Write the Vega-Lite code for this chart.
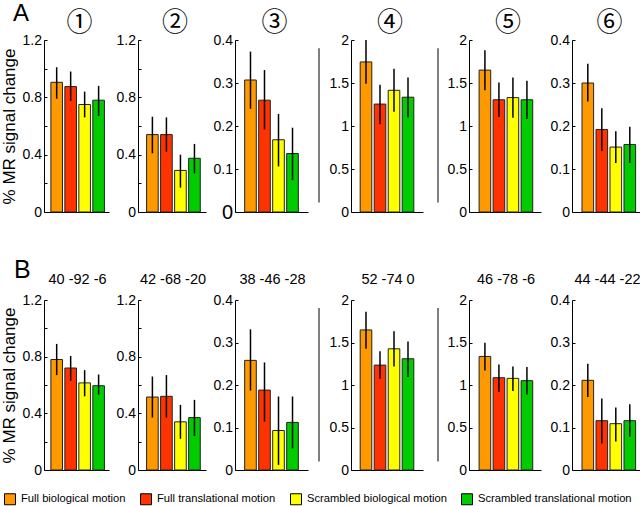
{
 "$schema": "https://vega.github.io/schema/vega-lite/v6.json",
 "padding": {"left": 0, "top": 1, "right": 0, "bottom": 0},
 "background": "white",
 "data": {"values": [
  {"r":"A","p":1,"c":"Full biological motion","v":0.905,"lo":0.79,"hi":1.01},
  {"r":"A","p":1,"c":"Full translational motion","v":0.875,"lo":0.775,"hi":0.98},
  {"r":"A","p":1,"c":"Scrambled biological motion","v":0.75,"lo":0.66,"hi":0.84},
  {"r":"A","p":1,"c":"Scrambled translational motion","v":0.78,"lo":0.67,"hi":0.88},
  {"r":"A","p":2,"c":"Full biological motion","v":0.54,"lo":0.41,"hi":0.665},
  {"r":"A","p":2,"c":"Full translational motion","v":0.54,"lo":0.42,"hi":0.66},
  {"r":"A","p":2,"c":"Scrambled biological motion","v":0.29,"lo":0.17,"hi":0.40},
  {"r":"A","p":2,"c":"Scrambled translational motion","v":0.375,"lo":0.27,"hi":0.475},
  {"r":"A","p":3,"c":"Full biological motion","v":0.307,"lo":0.24,"hi":0.373},
  {"r":"A","p":3,"c":"Full translational motion","v":0.26,"lo":0.192,"hi":0.33},
  {"r":"A","p":3,"c":"Scrambled biological motion","v":0.168,"lo":0.106,"hi":0.228},
  {"r":"A","p":3,"c":"Scrambled translational motion","v":0.136,"lo":0.074,"hi":0.196},
  {"r":"A","p":4,"c":"Full biological motion","v":1.745,"lo":1.49,"hi":2.0},
  {"r":"A","p":4,"c":"Full translational motion","v":1.255,"lo":1.02,"hi":1.48},
  {"r":"A","p":4,"c":"Scrambled biological motion","v":1.415,"lo":1.165,"hi":1.665},
  {"r":"A","p":4,"c":"Scrambled translational motion","v":1.335,"lo":1.10,"hi":1.565},
  {"r":"A","p":5,"c":"Full biological motion","v":1.65,"lo":1.415,"hi":1.88},
  {"r":"A","p":5,"c":"Full translational motion","v":1.305,"lo":1.105,"hi":1.505},
  {"r":"A","p":5,"c":"Scrambled biological motion","v":1.33,"lo":1.095,"hi":1.565},
  {"r":"A","p":5,"c":"Scrambled translational motion","v":1.305,"lo":1.08,"hi":1.525},
  {"r":"A","p":6,"c":"Full biological motion","v":0.30,"lo":0.257,"hi":0.345},
  {"r":"A","p":6,"c":"Full translational motion","v":0.192,"lo":0.142,"hi":0.241},
  {"r":"A","p":6,"c":"Scrambled biological motion","v":0.151,"lo":0.114,"hi":0.188},
  {"r":"A","p":6,"c":"Scrambled translational motion","v":0.157,"lo":0.114,"hi":0.198},
  {"r":"B","p":1,"c":"Full biological motion","v":0.78,"lo":0.67,"hi":0.89},
  {"r":"B","p":1,"c":"Full translational motion","v":0.72,"lo":0.63,"hi":0.805},
  {"r":"B","p":1,"c":"Scrambled biological motion","v":0.615,"lo":0.52,"hi":0.705},
  {"r":"B","p":1,"c":"Scrambled translational motion","v":0.595,"lo":0.533,"hi":0.674},
  {"r":"B","p":2,"c":"Full biological motion","v":0.515,"lo":0.37,"hi":0.66},
  {"r":"B","p":2,"c":"Full translational motion","v":0.52,"lo":0.37,"hi":0.67},
  {"r":"B","p":2,"c":"Scrambled biological motion","v":0.34,"lo":0.22,"hi":0.46},
  {"r":"B","p":2,"c":"Scrambled translational motion","v":0.37,"lo":0.24,"hi":0.495},
  {"r":"B","p":3,"c":"Full biological motion","v":0.258,"lo":0.187,"hi":0.331},
  {"r":"B","p":3,"c":"Full translational motion","v":0.188,"lo":0.114,"hi":0.253},
  {"r":"B","p":3,"c":"Scrambled biological motion","v":0.093,"lo":0.012,"hi":0.173},
  {"r":"B","p":3,"c":"Scrambled translational motion","v":0.112,"lo":0.051,"hi":0.173},
  {"r":"B","p":4,"c":"Full biological motion","v":1.648,"lo":1.426,"hi":1.863},
  {"r":"B","p":4,"c":"Full translational motion","v":1.234,"lo":1.074,"hi":1.398},
  {"r":"B","p":4,"c":"Scrambled biological motion","v":1.426,"lo":1.219,"hi":1.633},
  {"r":"B","p":4,"c":"Scrambled translational motion","v":1.309,"lo":1.094,"hi":1.512},
  {"r":"B","p":5,"c":"Full biological motion","v":1.336,"lo":1.172,"hi":1.496},
  {"r":"B","p":5,"c":"Full translational motion","v":1.086,"lo":0.918,"hi":1.242},
  {"r":"B","p":5,"c":"Scrambled biological motion","v":1.078,"lo":0.93,"hi":1.219},
  {"r":"B","p":5,"c":"Scrambled translational motion","v":1.051,"lo":0.887,"hi":1.211},
  {"r":"B","p":6,"c":"Full biological motion","v":0.211,"lo":0.172,"hi":0.25},
  {"r":"B","p":6,"c":"Full translational motion","v":0.116,"lo":0.0625,"hi":0.168},
  {"r":"B","p":6,"c":"Scrambled biological motion","v":0.109,"lo":0.067,"hi":0.147},
  {"r":"B","p":6,"c":"Scrambled translational motion","v":0.116,"lo":0.078,"hi":0.155}
 ]},
 "config": {
  "view": {"stroke": null},
  "font": "Liberation Sans",
  "axis": {"grid": false, "domainColor": "#000", "domainWidth": 1, "tickColor": "#000", "labelColor": "#000", "labelFont": "Liberation Sans", "labelFontSize": 14, "titleFont": "Liberation Sans", "titleFontSize": 17, "titleFontWeight": "normal", "titleColor": "#000", "labelOverlap": false},
  "axisX": {"labels": false, "ticks": false},
  "axisY": {"tickSize": -3, "labelPadding": 5.5, "titlePadding": 4},
  "title": {"font": "Liberation Sans", "fontWeight": "normal", "color": "#000", "fontSize": 14.5},
  "legend": {"orient": "none", "legendX": -40, "legendY": 453, "direction": "horizontal", "symbolType": "square", "symbolSize": 121, "symbolStrokeColor": "#000", "symbolStrokeWidth": 1, "symbolOpacity": 1, "labelFont": "Liberation Sans", "labelFontSize": 11.2, "labelColor": "#000", "columnPadding": 12, "labelOffset": 5},
  "range": {"category": ["#FF9900", "#FF3300", "#FFFF00", "#00CC00"]}
 },
 "spacing": 35,
 "vconcat": [
  {
   "title": {"text": "A", "fontSize": 24, "anchor": "start", "frame": "bounds", "dx": 13, "dy": 15.5, "offset": 0},
   "bounds": "flush",
   "spacing": 0,
   "hconcat": [
    {"width": 65, "height": 172, "transform": [{"filter": "datum.r=='A'&&datum.p==1"}],
     "title": {"text": "①", "font": "Noto Sans CJK JP", "fontSize": 26, "offset": -3, "dx": 3},
     "encoding": {"x": {"field": "c", "type": "nominal", "sort": null, "axis": {"title": null}, "scale": {"paddingInner": 0.17, "paddingOuter": 0.41, "align": 0.6}}},
     "layer": [
      {"mark": {"type": "bar", "stroke": "#222", "strokeWidth": 1}, "encoding": {"y": {"field": "v", "type": "quantitative", "scale": {"domain": [0, 1.2]}, "axis": {"title": "% MR signal change", "values": [0, 0.2, 0.4, 0.6, 0.8, 1, 1.2], "format": "~g", "labelExpr": "(datum.value==0||datum.value==0.4||datum.value==0.8||datum.value==1.2)?datum.label:''"}}, "color": {"field": "c", "type": "nominal", "title": null}}},
      {"mark": {"type": "rule", "color": "#000", "strokeWidth": 1.5}, "encoding": {"y": {"field": "lo", "type": "quantitative", "axis": {"title": "% MR signal change", "values": [0, 0.2, 0.4, 0.6, 0.8, 1, 1.2], "format": "~g", "labelExpr": "(datum.value==0||datum.value==0.4||datum.value==0.8||datum.value==1.2)?datum.label:''"}}, "y2": {"field": "hi"}}}
     ]},
    {"width": 29, "height": 172, "data": {"values": []}, "mark": {"type": "point", "opacity": 0}},
    {"width": 68, "height": 172, "transform": [{"filter": "datum.r=='A'&&datum.p==2"}],
     "title": {"text": "②", "font": "Noto Sans CJK JP", "fontSize": 26, "offset": -3, "dx": 3},
     "encoding": {"x": {"field": "c", "type": "nominal", "sort": null, "axis": {"title": null}, "scale": {"paddingInner": 0.17, "paddingOuter": 0.51, "align": 0.6}}},
     "layer": [
      {"mark": {"type": "bar", "stroke": "#222", "strokeWidth": 1}, "encoding": {"y": {"field": "v", "type": "quantitative", "scale": {"domain": [0, 1.2]}, "axis": {"title": null, "values": [0, 0.2, 0.4, 0.6, 0.8, 1, 1.2], "format": "~g", "labelExpr": "(datum.value==0||datum.value==0.4||datum.value==0.8||datum.value==1.2)?datum.label:''"}}, "color": {"field": "c", "type": "nominal", "title": null}}},
      {"mark": {"type": "rule", "color": "#000", "strokeWidth": 1.5}, "encoding": {"y": {"field": "lo", "type": "quantitative", "axis": {"title": null, "values": [0, 0.2, 0.4, 0.6, 0.8, 1, 1.2], "format": "~g", "labelExpr": "(datum.value==0||datum.value==0.4||datum.value==0.8||datum.value==1.2)?datum.label:''"}}, "y2": {"field": "hi"}}}
     ]},
    {"width": 29, "height": 172, "data": {"values": []}, "mark": {"type": "point", "opacity": 0}},
    {"width": 73, "height": 172, "transform": [{"filter": "datum.r=='A'&&datum.p==3"}],
     "title": {"text": "③", "font": "Noto Sans CJK JP", "fontSize": 26, "offset": -3, "dx": 3},
     "encoding": {"x": {"field": "c", "type": "nominal", "sort": null, "axis": {"title": null}, "scale": {"paddingInner": 0.17, "paddingOuter": 0.69, "align": 0.5}}},
     "layer": [
      {"mark": {"type": "bar", "stroke": "#222", "strokeWidth": 1}, "encoding": {"y": {"field": "v", "type": "quantitative", "scale": {"domain": [0, 0.4]}, "axis": {"title": null, "values": [0, 0.1, 0.2, 0.3, 0.4], "format": "~g", "labelFontSize": {"condition": {"test": "datum.value==0", "value": 20}, "value": 14}}}, "color": {"field": "c", "type": "nominal", "title": null}}},
      {"mark": {"type": "rule", "color": "#000", "strokeWidth": 1.5}, "encoding": {"y": {"field": "lo", "type": "quantitative", "axis": {"title": null, "values": [0, 0.1, 0.2, 0.3, 0.4], "format": "~g", "labelFontSize": {"condition": {"test": "datum.value==0", "value": 20}, "value": 14}}}, "y2": {"field": "hi"}}}
     ]},
    {"width": 11, "height": 172, "data": {"values": []}, "mark": {"type": "point", "opacity": 0}},
    {"width": 32, "height": 172, "data": {"values": [{}]}, "mark": {"type": "rule", "color": "#555", "strokeWidth": 1.5},
     "encoding": {"x": {"datum": 0, "type": "quantitative", "scale": {"domain": [0, 1]}, "axis": null}, "y": {"datum": 0.11, "type": "quantitative", "scale": {"domain": [0, 2]}, "axis": null}, "y2": {"datum": 1.905}}},
    {"width": 72, "height": 172, "transform": [{"filter": "datum.r=='A'&&datum.p==4"}],
     "title": {"text": "④", "font": "Noto Sans CJK JP", "fontSize": 26, "offset": -3, "dx": 3},
     "encoding": {"x": {"field": "c", "type": "nominal", "sort": null, "axis": {"title": null}, "scale": {"paddingInner": 0.17, "paddingOuter": 0.656, "align": 0.5}}},
     "layer": [
      {"mark": {"type": "bar", "stroke": "#222", "strokeWidth": 1}, "encoding": {"y": {"field": "v", "type": "quantitative", "scale": {"domain": [0, 2]}, "axis": {"title": null, "values": [0, 0.5, 1, 1.5, 2], "format": "~g"}}, "color": {"field": "c", "type": "nominal", "title": null}}},
      {"mark": {"type": "rule", "color": "#000", "strokeWidth": 1.5}, "encoding": {"y": {"field": "lo", "type": "quantitative", "axis": {"title": null, "values": [0, 0.5, 1, 1.5, 2], "format": "~g"}}, "y2": {"field": "hi"}}}
     ]},
    {"width": 15, "height": 172, "data": {"values": []}, "mark": {"type": "point", "opacity": 0}},
    {"width": 31, "height": 172, "data": {"values": [{}]}, "mark": {"type": "rule", "color": "#555", "strokeWidth": 1.5},
     "encoding": {"x": {"datum": 0, "type": "quantitative", "scale": {"domain": [0, 1]}, "axis": null}, "y": {"datum": 0.11, "type": "quantitative", "scale": {"domain": [0, 2]}, "axis": null}, "y2": {"datum": 1.905}}},
    {"width": 72, "height": 172, "transform": [{"filter": "datum.r=='A'&&datum.p==5"}],
     "title": {"text": "⑤", "font": "Noto Sans CJK JP", "fontSize": 26, "offset": -3, "dx": 3},
     "encoding": {"x": {"field": "c", "type": "nominal", "sort": null, "axis": {"title": null}, "scale": {"paddingInner": 0.17, "paddingOuter": 0.656, "align": 0.55}}},
     "layer": [
      {"mark": {"type": "bar", "stroke": "#222", "strokeWidth": 1}, "encoding": {"y": {"field": "v", "type": "quantitative", "scale": {"domain": [0, 2]}, "axis": {"title": null, "values": [0, 0.5, 1, 1.5, 2], "format": "~g"}}, "color": {"field": "c", "type": "nominal", "title": null}}},
      {"mark": {"type": "rule", "color": "#000", "strokeWidth": 1.5}, "encoding": {"y": {"field": "lo", "type": "quantitative", "axis": {"title": null, "values": [0, 0.5, 1, 1.5, 2], "format": "~g"}}, "y2": {"field": "hi"}}}
     ]},
    {"width": 31, "height": 172, "data": {"values": []}, "mark": {"type": "point", "opacity": 0}},
    {"width": 69, "height": 172, "transform": [{"filter": "datum.r=='A'&&datum.p==6"}],
     "title": {"text": "⑥", "font": "Noto Sans CJK JP", "fontSize": 26, "offset": -3, "dx": 3},
     "encoding": {"x": {"field": "c", "type": "nominal", "sort": null, "axis": {"title": null}, "scale": {"paddingInner": 0.17, "paddingOuter": 0.55, "align": 0.65}}},
     "layer": [
      {"mark": {"type": "bar", "stroke": "#222", "strokeWidth": 1}, "encoding": {"y": {"field": "v", "type": "quantitative", "scale": {"domain": [0, 0.4]}, "axis": {"title": null, "values": [0, 0.1, 0.2, 0.3, 0.4], "format": "~g"}}, "color": {"field": "c", "type": "nominal", "title": null}}},
      {"mark": {"type": "rule", "color": "#000", "strokeWidth": 1.5}, "encoding": {"y": {"field": "lo", "type": "quantitative", "axis": {"title": null, "values": [0, 0.1, 0.2, 0.3, 0.4], "format": "~g"}}, "y2": {"field": "hi"}}}
     ]}
   ]
  },
  {
   "title": {"text": "B", "fontSize": 25, "anchor": "start", "frame": "bounds", "dx": 14, "dy": 11, "offset": 0},
   "bounds": "flush",
   "spacing": 0,
   "hconcat": [
    {"width": 65, "height": 170, "transform": [{"filter": "datum.r=='B'&&datum.p==1"}],
     "title": {"text": "40 -92 -6", "offset": 6, "dx": 1},
     "encoding": {"x": {"field": "c", "type": "nominal", "sort": null, "axis": {"title": null}, "scale": {"paddingInner": 0.17, "paddingOuter": 0.41, "align": 0.6}}},
     "layer": [
      {"mark": {"type": "bar", "stroke": "#222", "strokeWidth": 1}, "encoding": {"y": {"field": "v", "type": "quantitative", "scale": {"domain": [0, 1.2]}, "axis": {"title": "% MR signal change", "values": [0, 0.2, 0.4, 0.6, 0.8, 1, 1.2], "format": "~g", "labelExpr": "(datum.value==0||datum.value==0.4||datum.value==0.8||datum.value==1.2)?datum.label:''"}}, "color": {"field": "c", "type": "nominal", "title": null}}},
      {"mark": {"type": "rule", "color": "#000", "strokeWidth": 1.5}, "encoding": {"y": {"field": "lo", "type": "quantitative", "axis": {"title": "% MR signal change", "values": [0, 0.2, 0.4, 0.6, 0.8, 1, 1.2], "format": "~g", "labelExpr": "(datum.value==0||datum.value==0.4||datum.value==0.8||datum.value==1.2)?datum.label:''"}}, "y2": {"field": "hi"}}}
     ]},
    {"width": 29, "height": 170, "data": {"values": []}, "mark": {"type": "point", "opacity": 0}},
    {"width": 68, "height": 170, "transform": [{"filter": "datum.r=='B'&&datum.p==2"}],
     "title": {"text": "42 -68 -20", "offset": 6, "dx": 1},
     "encoding": {"x": {"field": "c", "type": "nominal", "sort": null, "axis": {"title": null}, "scale": {"paddingInner": 0.17, "paddingOuter": 0.51, "align": 0.6}}},
     "layer": [
      {"mark": {"type": "bar", "stroke": "#222", "strokeWidth": 1}, "encoding": {"y": {"field": "v", "type": "quantitative", "scale": {"domain": [0, 1.2]}, "axis": {"title": null, "values": [0, 0.2, 0.4, 0.6, 0.8, 1, 1.2], "format": "~g", "labelExpr": "(datum.value==0||datum.value==0.4||datum.value==0.8||datum.value==1.2)?datum.label:''"}}, "color": {"field": "c", "type": "nominal", "title": null}}},
      {"mark": {"type": "rule", "color": "#000", "strokeWidth": 1.5}, "encoding": {"y": {"field": "lo", "type": "quantitative", "axis": {"title": null, "values": [0, 0.2, 0.4, 0.6, 0.8, 1, 1.2], "format": "~g", "labelExpr": "(datum.value==0||datum.value==0.4||datum.value==0.8||datum.value==1.2)?datum.label:''"}}, "y2": {"field": "hi"}}}
     ]},
    {"width": 29, "height": 170, "data": {"values": []}, "mark": {"type": "point", "opacity": 0}},
    {"width": 73, "height": 170, "transform": [{"filter": "datum.r=='B'&&datum.p==3"}],
     "title": {"text": "38 -46 -28", "offset": 6, "dx": 1},
     "encoding": {"x": {"field": "c", "type": "nominal", "sort": null, "axis": {"title": null}, "scale": {"paddingInner": 0.17, "paddingOuter": 0.69, "align": 0.5}}},
     "layer": [
      {"mark": {"type": "bar", "stroke": "#222", "strokeWidth": 1}, "encoding": {"y": {"field": "v", "type": "quantitative", "scale": {"domain": [0, 0.4]}, "axis": {"title": null, "values": [0, 0.1, 0.2, 0.3, 0.4], "format": "~g"}}, "color": {"field": "c", "type": "nominal", "title": null}}},
      {"mark": {"type": "rule", "color": "#000", "strokeWidth": 1.5}, "encoding": {"y": {"field": "lo", "type": "quantitative", "axis": {"title": null, "values": [0, 0.1, 0.2, 0.3, 0.4], "format": "~g"}}, "y2": {"field": "hi"}}}
     ]},
    {"width": 11, "height": 170, "data": {"values": []}, "mark": {"type": "point", "opacity": 0}},
    {"width": 32, "height": 170, "data": {"values": [{}]}, "mark": {"type": "rule", "color": "#555", "strokeWidth": 1.5},
     "encoding": {"x": {"datum": 0, "type": "quantitative", "scale": {"domain": [0, 1]}, "axis": null}, "y": {"datum": 0.1, "type": "quantitative", "scale": {"domain": [0, 2]}, "axis": null}, "y2": {"datum": 1.905}}},
    {"width": 72, "height": 170, "transform": [{"filter": "datum.r=='B'&&datum.p==4"}],
     "title": {"text": "52 -74 0", "offset": 6, "dx": 1},
     "encoding": {"x": {"field": "c", "type": "nominal", "sort": null, "axis": {"title": null}, "scale": {"paddingInner": 0.17, "paddingOuter": 0.656, "align": 0.5}}},
     "layer": [
      {"mark": {"type": "bar", "stroke": "#222", "strokeWidth": 1}, "encoding": {"y": {"field": "v", "type": "quantitative", "scale": {"domain": [0, 2]}, "axis": {"title": null, "values": [0, 0.5, 1, 1.5, 2], "format": "~g"}}, "color": {"field": "c", "type": "nominal", "title": null}}},
      {"mark": {"type": "rule", "color": "#000", "strokeWidth": 1.5}, "encoding": {"y": {"field": "lo", "type": "quantitative", "axis": {"title": null, "values": [0, 0.5, 1, 1.5, 2], "format": "~g"}}, "y2": {"field": "hi"}}}
     ]},
    {"width": 15, "height": 170, "data": {"values": []}, "mark": {"type": "point", "opacity": 0}},
    {"width": 31, "height": 170, "data": {"values": [{}]}, "mark": {"type": "rule", "color": "#555", "strokeWidth": 1.5},
     "encoding": {"x": {"datum": 0, "type": "quantitative", "scale": {"domain": [0, 1]}, "axis": null}, "y": {"datum": 0.1, "type": "quantitative", "scale": {"domain": [0, 2]}, "axis": null}, "y2": {"datum": 1.905}}},
    {"width": 72, "height": 170, "transform": [{"filter": "datum.r=='B'&&datum.p==5"}],
     "title": {"text": "46 -78 -6", "offset": 6, "dx": 1},
     "encoding": {"x": {"field": "c", "type": "nominal", "sort": null, "axis": {"title": null}, "scale": {"paddingInner": 0.17, "paddingOuter": 0.656, "align": 0.55}}},
     "layer": [
      {"mark": {"type": "bar", "stroke": "#222", "strokeWidth": 1}, "encoding": {"y": {"field": "v", "type": "quantitative", "scale": {"domain": [0, 2]}, "axis": {"title": null, "values": [0, 0.5, 1, 1.5, 2], "format": "~g"}}, "color": {"field": "c", "type": "nominal", "title": null}}},
      {"mark": {"type": "rule", "color": "#000", "strokeWidth": 1.5}, "encoding": {"y": {"field": "lo", "type": "quantitative", "axis": {"title": null, "values": [0, 0.5, 1, 1.5, 2], "format": "~g"}}, "y2": {"field": "hi"}}}
     ]},
    {"width": 31, "height": 170, "data": {"values": []}, "mark": {"type": "point", "opacity": 0}},
    {"width": 69, "height": 170, "transform": [{"filter": "datum.r=='B'&&datum.p==6"}],
     "title": {"text": "44 -44 -22", "offset": 6, "dx": 1},
     "encoding": {"x": {"field": "c", "type": "nominal", "sort": null, "axis": {"title": null}, "scale": {"paddingInner": 0.17, "paddingOuter": 0.55, "align": 0.65}}},
     "layer": [
      {"mark": {"type": "bar", "stroke": "#222", "strokeWidth": 1}, "encoding": {"y": {"field": "v", "type": "quantitative", "scale": {"domain": [0, 0.4]}, "axis": {"title": null, "values": [0, 0.1, 0.2, 0.3, 0.4], "format": "~g"}}, "color": {"field": "c", "type": "nominal", "title": null}}},
      {"mark": {"type": "rule", "color": "#000", "strokeWidth": 1.5}, "encoding": {"y": {"field": "lo", "type": "quantitative", "axis": {"title": null, "values": [0, 0.1, 0.2, 0.3, 0.4], "format": "~g"}}, "y2": {"field": "hi"}}}
     ]}
   ]
  }
 ]
}
